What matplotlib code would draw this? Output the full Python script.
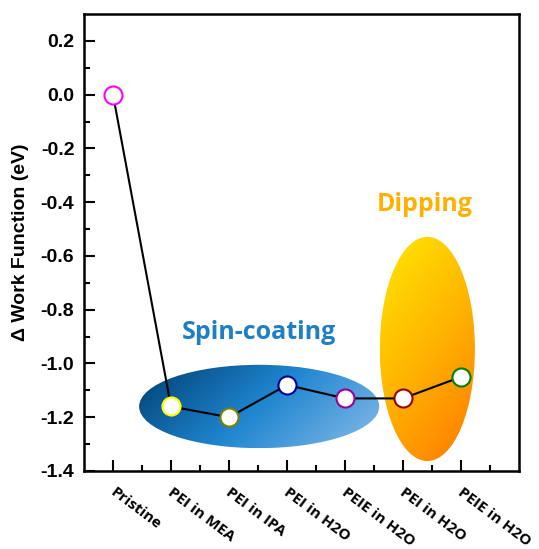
import numpy as np
import matplotlib
matplotlib.use("Agg")
import matplotlib.pyplot as plt
from matplotlib.patches import Ellipse
from matplotlib.colors import LinearSegmentedColormap

categories = ["Pristine", "PEI in MEA", "PEI in IPA", "PEI in H2O", "PEIE in H2O", "PEI in H2O", "PEIE in H2O"]
values = [0.0, -1.16, -1.20, -1.08, -1.13, -1.13, -1.05]
edge_colors = ["#ff00ff", "#ffff00", "#808000", "#000099", "#990099", "#990000", "#008000"]
yticks = [-1.4, -1.2, -1.0, -0.8, -0.6, -0.4, -0.2, 0.0, 0.2]

fig = plt.figure(figsize=(5.39, 5.49), dpi=100)
ax = fig.add_axes([84/539, 1-471/549, (519-84)/539, (471-14)/549])

def grad_ellipse(ax, cx, cy, w, h, colors, wx, z):
    ell = Ellipse((cx, cy), w, h, facecolor="none", edgecolor="none", zorder=z)
    ax.add_patch(ell)
    n = 200
    xx, yy = np.meshgrid(np.linspace(0, 1, n), np.linspace(0, 1, n))
    g = wx * xx + (1 - wx) * yy
    cmap = LinearSegmentedColormap.from_list("g", colors)
    im = ax.imshow(g, cmap=cmap, extent=[cx - w/2, cx + w/2, cy - h/2, cy + h/2],
                   origin="upper", aspect="auto", zorder=z, interpolation="bilinear")
    im.set_clip_path(ell)

grad_ellipse(ax, 2.52, -1.16, 4.14, 0.31, ["#003e70", "#1f86d0", "#88bbe8"], 0.72, 1)
grad_ellipse(ax, 5.42, -0.946, 1.64, 0.834, ["#ffe800", "#ffb400", "#ff7800"], 0.35, 1)
ax.set_xlim(-0.5, 7.0)
ax.set_ylim(-1.4, 0.3)

x = np.arange(len(values))
ax.plot(x, values, color="black", lw=1.5, zorder=3)
for xi, v, c in zip(x, values, edge_colors):
    ax.plot(xi, v, "o", ms=13, mfc="white", mec=c, mew=1.5, zorder=4)

ax.text(2.52, -0.885, "Spin-coating", color="#1f7fc4", fontsize=18, fontweight="bold",
        ha="center", va="center", family="Open Sans", zorder=5)
ax.text(5.38, -0.41, "Dipping", color="#ffb000", fontsize=18, fontweight="bold",
        ha="center", va="center", family="Open Sans", zorder=5)

ax.set_xticks(x)
ax.set_xticks(np.arange(0.5, 7.0, 1.0), minor=True)
ax.set_xticklabels([])
for xi, lab in zip(x, categories):
    ax.text(xi - 0.02, -1.475, lab, rotation=-37, rotation_mode="anchor", ha="left", va="center",
            fontsize=11, fontweight="bold", family="Open Sans")
ax.set_yticks(yticks)
ax.set_yticks(np.arange(-1.3, 0.3, 0.2), minor=True)
ax.set_yticklabels([f"{v:.1f}" for v in yticks], fontsize=14, fontweight="bold",
                   family="Liberation Sans")
ax.tick_params(axis="both", which="major", direction="in", length=8, width=1.5, top=False, right=False)
ax.tick_params(axis="both", which="minor", direction="in", length=4, width=1.5, top=False, right=False)
ax.tick_params(axis="y", pad=7)
for s in ax.spines.values():
    s.set_linewidth(1.8)
ax.set_ylabel("Δ Work Function (eV)", fontsize=14, fontweight="bold", family="Liberation Sans", labelpad=8)

fig.savefig("out.png", dpi=100)
